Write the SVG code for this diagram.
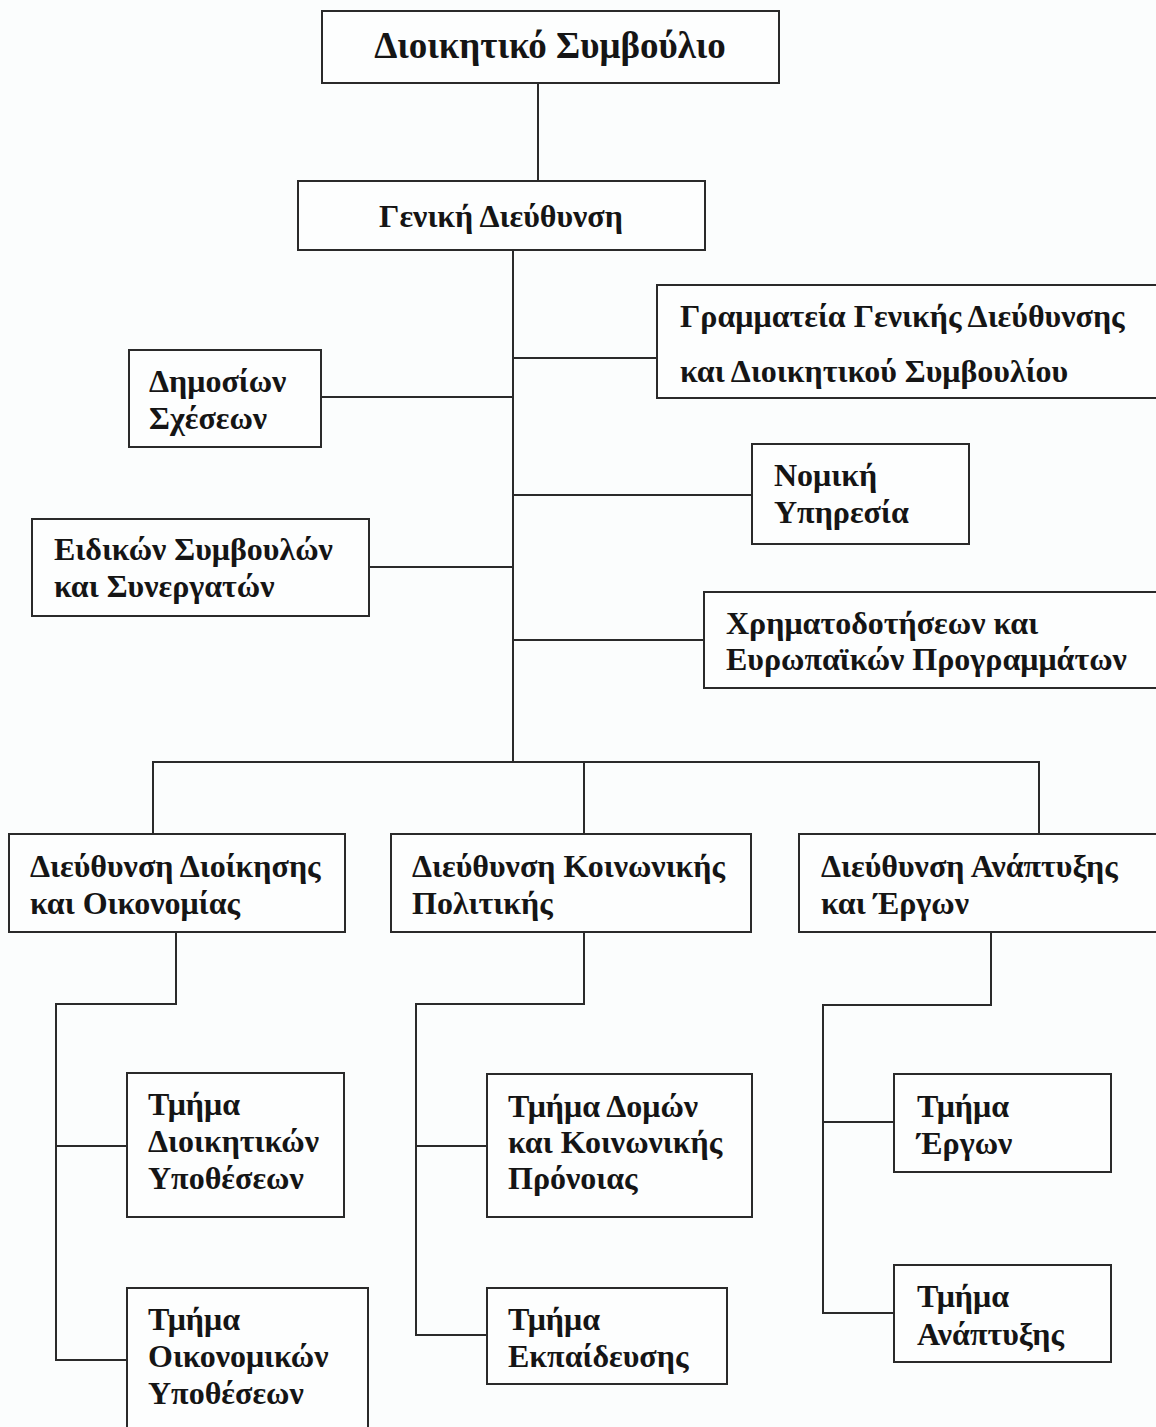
<svg xmlns="http://www.w3.org/2000/svg" width="1156" height="1427" viewBox="0 0 1156 1427">
<style>
.box{fill:#fdfefe;stroke:#2a2a2a;stroke-width:2}
.ln{fill:none;stroke:#2a2a2a;stroke-width:2}
text{font-family:"Liberation Serif","Times New Roman",serif;font-weight:bold;font-size:32px;fill:#151515}
.c{text-anchor:middle}
.t{font-size:37px}
</style>
<rect width="1156" height="1427" fill="#fbfdfd"/>
<g id="connectors">
<path class="ln" d="M538,83V181"/>
<path class="ln" d="M513,250V762"/>
<path class="ln" d="M513,358H657M513,397H321M513,495H752M513,567H369M513,640H704"/>
<path class="ln" d="M153,834V762H1039V834M584,762V834"/>
<path class="ln" d="M176,932V1004H56V1360H127M56,1146H127"/>
<path class="ln" d="M584,932V1004H416V1335H487M416,1146H487"/>
<path class="ln" d="M991,932V1005H823V1313H894M823,1122H894"/>
</g>
<g id="n-board"><rect class="box" x="322" y="11" width="457" height="72"/><text class="c t" x="550" y="58">Διοικητικό Συμβούλιο</text></g>
<g id="n-general"><rect class="box" x="298" y="181" width="407" height="69"/><text class="c" x="501" y="227">Γενική Διεύθυνση</text></g>
<g id="n-secretariat"><rect class="box" x="657" y="285" width="510" height="113"/><text x="680" y="327">Γραμματεία Γενικής Διεύθυνσης</text><text x="680" y="382">και Διοικητικού Συμβουλίου</text></g>
<g id="n-pr"><rect class="box" x="129" y="350" width="192" height="97"/><text x="149" y="392">Δημοσίων</text><text x="149" y="429">Σχέσεων</text></g>
<g id="n-legal"><rect class="box" x="752" y="444" width="217" height="100"/><text x="774" y="486">Νομική</text><text x="774" y="523">Υπηρεσία</text></g>
<g id="n-advisors"><rect class="box" x="32" y="519" width="337" height="97"/><text x="54" y="560">Ειδικών Συμβουλών</text><text x="54" y="597">και Συνεργατών</text></g>
<g id="n-funding"><rect class="box" x="704" y="592" width="463" height="96"/><text x="726" y="634">Χρηματοδοτήσεων και</text><text x="726" y="670">Ευρωπαϊκών Προγραμμάτων</text></g>
<g id="n-admin"><rect class="box" x="9" y="834" width="336" height="98"/><text x="30" y="877">Διεύθυνση Διοίκησης</text><text x="30" y="914">και Οικονομίας</text></g>
<g id="n-social"><rect class="box" x="391" y="834" width="360" height="98"/><text x="412" y="877">Διεύθυνση Κοινωνικής</text><text x="412" y="914">Πολιτικής</text></g>
<g id="n-dev"><rect class="box" x="799" y="834" width="368" height="98"/><text x="821" y="877">Διεύθυνση Ανάπτυξης</text><text x="821" y="914">και Έργων</text></g>
<g id="n-admin-affairs"><rect class="box" x="127" y="1073" width="217" height="144"/><text x="148" y="1115">Τμήμα</text><text x="148" y="1152">Διοικητικών</text><text x="148" y="1189">Υποθέσεων</text></g>
<g id="n-econ-affairs"><rect class="box" x="127" y="1288" width="241" height="160"/><text x="148" y="1330">Τμήμα</text><text x="148" y="1367">Οικονομικών</text><text x="148" y="1404">Υποθέσεων</text></g>
<g id="n-structures"><rect class="box" x="487" y="1074" width="265" height="143"/><text x="508" y="1117">Τμήμα Δομών</text><text x="508" y="1153">και Κοινωνικής</text><text x="508" y="1189">Πρόνοιας</text></g>
<g id="n-education"><rect class="box" x="487" y="1288" width="240" height="96"/><text x="508" y="1330">Τμήμα</text><text x="508" y="1367">Εκπαίδευσης</text></g>
<g id="n-works"><rect class="box" x="894" y="1074" width="217" height="98"/><text x="917" y="1117">Τμήμα</text><text x="917" y="1154">Έργων</text></g>
<g id="n-development"><rect class="box" x="894" y="1265" width="217" height="97"/><text x="917" y="1307">Τμήμα</text><text x="917" y="1345">Ανάπτυξης</text></g>
</svg>
